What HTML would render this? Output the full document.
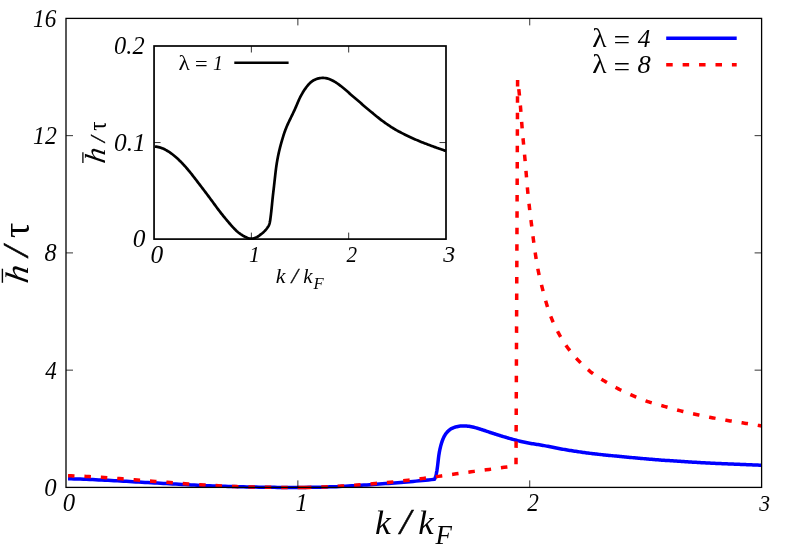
<!DOCTYPE html>
<html><head><meta charset="utf-8">
<style>
html,body{margin:0;padding:0;background:#fff;}
svg{display:block;}
text{font-family:"Liberation Serif",serif;fill:#000;}
</style></head>
<body>
<svg width="789" height="552" viewBox="0 0 789 552">
<rect x="0" y="0" width="789" height="552" fill="#fff"/>
<!-- main curves -->
<path d="M68.00 478.80 L71.08 478.86 L74.17 478.94 L77.25 479.02 L80.33 479.12 L83.41 479.23 L86.50 479.35 L89.58 479.47 L92.66 479.60 L95.74 479.74 L98.82 479.89 L101.90 480.04 L104.98 480.20 L108.06 480.36 L111.14 480.52 L114.22 480.69 L117.30 480.86 L120.38 481.03 L123.46 481.20 L126.54 481.37 L129.62 481.54 L132.69 481.72 L135.77 481.89 L138.85 482.06 L141.93 482.23 L145.01 482.40 L148.09 482.57 L151.17 482.74 L154.25 482.90 L157.33 483.07 L160.41 483.24 L163.49 483.42 L166.57 483.59 L169.65 483.76 L172.72 483.93 L175.80 484.11 L178.88 484.28 L181.96 484.44 L185.04 484.61 L188.12 484.78 L191.20 484.94 L194.28 485.09 L197.36 485.24 L200.44 485.39 L203.52 485.53 L206.60 485.67 L209.69 485.80 L212.77 485.93 L215.85 486.04 L218.93 486.15 L222.01 486.26 L225.09 486.36 L228.18 486.45 L231.26 486.54 L234.34 486.62 L237.43 486.70 L240.51 486.78 L243.59 486.85 L246.68 486.92 L249.76 486.98 L252.84 487.04 L255.93 487.10 L259.01 487.15 L262.09 487.20 L265.18 487.25 L268.26 487.29 L271.34 487.33 L274.43 487.36 L277.51 487.39 L280.60 487.42 L283.68 487.44 L286.76 487.45 L289.85 487.46 L292.93 487.46 L296.02 487.46 L299.10 487.45 L302.18 487.43 L305.27 487.40 L308.35 487.37 L311.44 487.33 L314.52 487.28 L317.60 487.22 L320.69 487.15 L323.77 487.07 L326.85 486.98 L329.93 486.87 L333.02 486.76 L336.10 486.64 L339.18 486.50 L342.26 486.36 L345.34 486.20 L348.42 486.04 L351.50 485.86 L354.58 485.68 L357.65 485.49 L360.73 485.29 L363.81 485.09 L366.89 484.89 L369.96 484.68 L373.04 484.47 L376.12 484.26 L379.19 484.04 L382.27 483.82 L385.35 483.60 L388.42 483.38 L391.50 483.15 L394.57 482.91 L397.65 482.67 L400.72 482.43 L403.80 482.18 L406.87 481.92 L409.94 481.66 L413.01 481.39 L416.09 481.12 L419.16 480.84 L422.23 480.55 L425.30 480.25 L428.37 479.94 L431.43 479.63 L434.50 479.30 L434.50 479.30 L434.98 478.16 L435.40 476.99 L435.77 475.82 L436.10 474.63 L436.38 473.43 L436.63 472.22 L436.86 471.01 L437.05 469.78 L437.23 468.56 L437.40 467.34 L437.56 466.11 L437.70 464.88 L437.84 463.66 L437.98 462.43 L438.12 461.20 L438.26 459.98 L438.40 458.75 L438.55 457.53 L438.71 456.30 L438.88 455.08 L439.07 453.86 L439.27 452.65 L439.49 451.43 L439.73 450.22 L439.98 449.01 L440.26 447.81 L440.55 446.61 L440.87 445.41 L441.21 444.22 L441.56 443.04 L441.94 441.86 L442.35 440.68 L442.79 439.53 L443.26 438.38 L443.78 437.26 L444.34 436.16 L444.96 435.09 L445.64 434.05 L446.38 433.04 L447.18 432.08 L448.04 431.18 L448.96 430.34 L449.94 429.58 L450.97 428.90 L452.05 428.30 L453.17 427.79 L454.34 427.35 L455.52 426.98 L456.72 426.67 L457.94 426.42 L459.16 426.21 L460.38 426.06 L461.62 425.96 L462.85 425.91 L464.09 425.90 L465.32 425.95 L466.56 426.03 L467.79 426.15 L469.01 426.32 L470.23 426.52 L471.45 426.75 L472.65 427.00 L473.85 427.29 L475.05 427.60 L476.24 427.93 L477.43 428.27 L478.61 428.63 L479.79 429.00 L480.97 429.37 L482.14 429.75 L483.32 430.14 L484.49 430.53 L485.66 430.92 L486.83 431.31 L488.00 431.70 L489.17 432.09 L490.34 432.49 L491.51 432.87 L492.68 433.26 L493.86 433.64 L495.03 434.02 L496.21 434.39 L497.39 434.76 L498.57 435.12 L499.75 435.49 L500.93 435.85 L502.11 436.21 L503.29 436.56 L504.47 436.91 L505.66 437.27 L506.84 437.61 L508.03 437.96 L509.21 438.31 L510.40 438.65 L511.58 438.99 L512.77 439.32 L513.96 439.65 L515.15 439.97 L516.35 440.29 L517.54 440.60 L518.74 440.91 L519.94 441.21 L521.14 441.50 L522.34 441.78 L523.54 442.06 L524.75 442.32 L525.96 442.57 L527.17 442.81 L528.38 443.04 L529.60 443.26 L530.81 443.47 L532.03 443.66 L533.25 443.85 L534.47 444.04 L535.69 444.23 L536.91 444.41 L538.13 444.60 L539.35 444.79 L540.57 445.00 L541.79 445.20 L543.00 445.42 L544.22 445.64 L545.43 445.87 L546.64 446.11 L547.85 446.34 L549.06 446.58 L550.27 446.83 L551.48 447.07 L552.69 447.31 L553.91 447.56 L555.12 447.80 L556.33 448.03 L557.54 448.27 L558.75 448.50 L559.97 448.73 L561.18 448.95 L562.40 449.17 L563.61 449.38 L564.83 449.59 L566.04 449.80 L567.26 450.00 L568.48 450.20 L569.70 450.40 L570.92 450.59 L572.14 450.79 L573.36 450.97 L574.58 451.16 L575.80 451.34 L577.02 451.53 L578.24 451.71 L579.46 451.88 L580.69 452.06 L581.91 452.23 L583.13 452.40 L584.35 452.57 L585.58 452.73 L586.80 452.90 L588.02 453.06 L589.25 453.21 L590.47 453.37 L591.70 453.52 L592.92 453.67 L594.15 453.81 L595.38 453.96 L596.60 454.10 L597.83 454.23 L599.06 454.37 L600.28 454.50 L601.51 454.63 L602.74 454.76 L603.97 454.89 L605.19 455.02 L606.42 455.14 L607.65 455.27 L608.88 455.39 L610.11 455.51 L611.34 455.63 L612.56 455.75 L613.79 455.88 L615.02 456.00 L616.25 456.11 L617.48 456.23 L618.71 456.35 L619.94 456.47 L621.17 456.59 L622.39 456.71 L623.62 456.82 L624.85 456.94 L626.08 457.05 L627.31 457.17 L628.54 457.29 L629.77 457.40 L631.00 457.51 L632.23 457.63 L633.46 457.74 L634.69 457.85 L635.91 457.96 L637.14 458.07 L638.37 458.18 L639.60 458.29 L640.83 458.40 L642.06 458.51 L643.29 458.62 L644.52 458.73 L645.75 458.84 L646.98 458.94 L648.21 459.05 L649.44 459.15 L650.67 459.26 L651.90 459.36 L653.13 459.46 L654.36 459.56 L655.59 459.66 L656.82 459.76 L658.05 459.85 L659.29 459.94 L660.52 460.04 L661.75 460.13 L662.98 460.21 L664.21 460.30 L665.44 460.38 L666.67 460.47 L667.91 460.55 L669.14 460.62 L670.37 460.70 L671.60 460.78 L672.83 460.85 L674.07 460.93 L675.30 461.01 L676.53 461.08 L677.76 461.16 L678.99 461.24 L680.23 461.31 L681.46 461.39 L682.69 461.48 L683.92 461.56 L685.15 461.64 L686.38 461.72 L687.62 461.80 L688.85 461.89 L690.08 461.97 L691.31 462.05 L692.54 462.13 L693.77 462.21 L695.01 462.29 L696.24 462.36 L697.47 462.44 L698.70 462.51 L699.94 462.58 L701.17 462.65 L702.40 462.72 L703.63 462.79 L704.87 462.86 L706.10 462.92 L707.33 462.99 L708.56 463.05 L709.80 463.11 L711.03 463.17 L712.26 463.23 L713.50 463.29 L714.73 463.34 L715.96 463.40 L717.20 463.45 L718.43 463.51 L719.66 463.56 L720.90 463.62 L722.13 463.67 L723.36 463.72 L724.60 463.77 L725.83 463.82 L727.06 463.87 L728.30 463.92 L729.53 463.97 L730.76 464.02 L732.00 464.07 L733.23 464.11 L734.46 464.16 L735.70 464.21 L736.93 464.26 L738.17 464.30 L739.40 464.35 L740.63 464.40 L741.87 464.45 L743.10 464.49 L744.33 464.54 L745.57 464.59 L746.80 464.64 L748.03 464.69 L749.27 464.73 L750.50 464.78 L751.73 464.83 L752.97 464.88 L754.20 464.93 L755.43 464.98 L756.67 465.04 L757.90 465.09 L759.13 465.14 L760.37 465.20 L761.60 465.25" fill="none" stroke="#0000ff" stroke-width="3.5" stroke-linejoin="round"/>
<path d="M68.00 475.70 L71.02 475.79 L74.03 475.90 L77.05 476.01 L80.06 476.15 L83.08 476.29 L86.09 476.44 L89.11 476.60 L92.12 476.78 L95.13 476.96 L98.14 477.15 L101.15 477.34 L104.17 477.54 L107.18 477.75 L110.19 477.96 L113.20 478.18 L116.21 478.40 L119.22 478.62 L122.23 478.84 L125.24 479.07 L128.25 479.30 L131.25 479.53 L134.26 479.76 L137.27 480.00 L140.28 480.24 L143.29 480.47 L146.30 480.71 L149.31 480.95 L152.32 481.18 L155.32 481.42 L158.33 481.66 L161.34 481.90 L164.35 482.13 L167.36 482.36 L170.37 482.60 L173.38 482.83 L176.39 483.05 L179.40 483.28 L182.41 483.49 L185.42 483.71 L188.43 483.92 L191.44 484.12 L194.45 484.32 L197.46 484.52 L200.47 484.71 L203.48 484.90 L206.50 485.08 L209.51 485.25 L212.52 485.42 L215.54 485.59 L218.55 485.75 L221.56 485.91 L224.58 486.06 L227.59 486.20 L230.61 486.33 L233.62 486.46 L236.64 486.57 L239.65 486.68 L242.67 486.77 L245.69 486.86 L248.70 486.94 L251.72 487.01 L254.74 487.07 L257.76 487.13 L260.77 487.18 L263.79 487.23 L266.81 487.27 L269.83 487.31 L272.85 487.34 L275.86 487.37 L278.88 487.40 L281.90 487.42 L284.92 487.43 L287.93 487.45 L290.95 487.45 L293.97 487.45 L296.99 487.45 L300.01 487.44 L303.02 487.43 L305.50 487.42" fill="none" stroke="#ff0000" stroke-width="3.5" stroke-dasharray="6.5 9.93" stroke-linejoin="round"/>
<path d="M304.90 487.42 L306.04 487.41 L309.06 487.38 L312.08 487.33 L315.09 487.27 L318.11 487.20 L321.13 487.10 L324.14 486.99 L327.16 486.87 L330.17 486.73 L333.19 486.58 L336.20 486.42 L339.22 486.24 L342.23 486.05 L345.24 485.84 L348.25 485.63 L351.26 485.41 L354.27 485.19 L357.28 484.95 L360.29 484.71 L363.29 484.47 L366.30 484.23 L369.31 483.99 L372.32 483.75 L375.33 483.50 L378.33 483.25 L381.34 482.99 L384.35 482.73 L387.35 482.45 L390.36 482.17 L393.36 481.87 L396.36 481.57 L399.36 481.25 L402.36 480.92 L405.36 480.58 L408.36 480.23 L411.36 479.88 L414.35 479.51 L417.35 479.14 L420.34 478.76 L423.34 478.37 L426.33 477.98 L429.32 477.58 L432.31 477.18 L435.30 476.77 L438.29 476.36 L441.28 475.95 L444.27 475.53 L447.26 475.11 L450.25 474.69 L453.24 474.27 L456.22 473.85 L459.21 473.43 L462.20 473.01 L465.19 472.60 L468.18 472.19 L471.17 471.78 L474.16 471.38 L477.15 470.98 L480.15 470.58 L483.14 470.19 L486.13 469.79 L489.12 469.40 L492.11 469.00 L495.10 468.59 L498.09 468.18 L501.08 467.76 L504.07 467.34 L507.05 466.90 L510.04 466.45 L513.02 465.98 L516.00 465.50 L517.60 79.60 L517.77 80.82 L517.93 82.03 L518.08 83.25 L518.24 84.47 L518.39 85.69 L518.53 86.91 L518.67 88.13 L518.81 89.35 L518.95 90.57 L519.08 91.79 L519.21 93.01 L519.33 94.23 L519.45 95.45 L519.57 96.67 L519.69 97.90 L519.81 99.12 L519.92 100.34 L520.03 101.56 L520.14 102.79 L520.24 104.01 L520.35 105.23 L520.45 106.46 L520.55 107.68 L520.65 108.91 L520.75 110.13 L520.84 111.35 L520.94 112.58 L521.03 113.80 L521.13 115.03 L521.22 116.25 L521.32 117.47 L521.41 118.70 L521.50 119.92 L521.60 121.15 L521.69 122.37 L521.79 123.60 L521.89 124.82 L521.98 126.04 L522.08 127.27 L522.18 128.49 L522.28 129.71 L522.39 130.94 L522.49 132.16 L522.59 133.38 L522.70 134.61 L522.81 135.83 L522.92 137.05 L523.03 138.28 L523.14 139.50 L523.25 140.72 L523.36 141.95 L523.47 143.17 L523.59 144.39 L523.70 145.61 L523.82 146.84 L523.93 148.06 L524.05 149.28 L524.17 150.50 L524.28 151.72 L524.40 152.95 L524.51 154.17 L524.62 155.39 L524.74 156.61 L524.85 157.84 L524.96 159.06 L525.07 160.28 L525.18 161.51 L525.28 162.73 L525.39 163.95 L525.50 165.18 L525.60 166.40 L525.70 167.62 L525.81 168.85 L525.91 170.07 L526.01 171.29 L526.11 172.52 L526.21 173.74 L526.31 174.96 L526.41 176.19 L526.51 177.41 L526.61 178.64 L526.71 179.86 L526.81 181.08 L526.92 182.31 L527.02 183.53 L527.12 184.75 L527.23 185.98 L527.34 187.20 L527.45 188.42 L527.56 189.64 L527.67 190.87 L527.79 192.09 L527.91 193.31 L528.03 194.53 L528.15 195.75 L528.28 196.98 L528.40 198.20 L528.53 199.42 L528.67 200.64 L528.80 201.86 L528.93 203.08 L529.07 204.30 L529.21 205.52 L529.35 206.74 L529.49 207.96 L529.64 209.18 L529.78 210.40 L529.93 211.62 L530.08 212.84 L530.22 214.05 L530.37 215.27 L530.52 216.49 L530.67 217.71 L530.82 218.93 L530.97 220.15 L531.12 221.37 L531.27 222.59 L531.42 223.80 L531.57 225.02 L531.72 226.24 L531.87 227.46 L532.02 228.68 L532.17 229.90 L532.33 231.12 L532.48 232.33 L532.63 233.55 L532.78 234.77 L532.94 235.99 L533.09 237.21 L533.25 238.42 L533.41 239.64 L533.57 240.86 L533.73 242.08 L533.89 243.29 L534.06 244.51 L534.23 245.73 L534.39 246.94 L534.56 248.16 L534.74 249.37 L534.91 250.59 L535.08 251.80 L535.26 253.02 L535.44 254.23 L535.62 255.45 L535.81 256.66 L535.99 257.88 L536.18 259.09 L536.37 260.30 L536.57 261.52 L536.77 262.73 L536.97 263.94 L537.18 265.15 L537.39 266.36 L537.61 267.57 L537.84 268.77 L538.07 269.98 L538.31 271.18 L538.56 272.38 L538.82 273.58 L539.08 274.78 L539.35 275.98 L539.62 277.18 L539.90 278.37 L540.18 279.57 L540.47 280.76 L540.76 281.96 L541.06 283.15 L541.35 284.34 L541.65 285.53 L541.95 286.72 L542.25 287.91 L542.56 289.10 L542.86 290.29 L543.17 291.48 L543.47 292.67 L543.78 293.86 L544.09 295.05 L544.41 296.23 L544.73 297.42 L545.05 298.60 L545.38 299.79 L545.72 300.97 L546.05 302.15 L546.40 303.33 L546.75 304.50 L547.11 305.68 L547.47 306.85 L547.85 308.02 L548.23 309.19 L548.61 310.36 L549.01 311.52 L549.42 312.68 L549.83 313.84 L550.25 314.99 L550.69 316.14 L551.13 317.28 L551.58 318.43 L552.04 319.56 L552.52 320.70 L553.00 321.82 L553.50 322.95 L554.00 324.07 L554.51 325.18 L555.04 326.29 L555.57 327.40 L556.12 328.50 L556.67 329.60 L557.23 330.69 L557.81 331.78 L558.39 332.86 L558.98 333.94 L559.58 335.01 L560.18 336.08 L560.80 337.15 L561.42 338.21 L562.06 339.26 L562.70 340.31 L563.35 341.35 L564.01 342.38 L564.69 343.41 L565.37 344.43 L566.06 345.45 L566.76 346.45 L567.48 347.45 L568.20 348.44 L568.94 349.42 L569.69 350.40 L570.45 351.36 L571.21 352.32 L571.99 353.27 L572.78 354.21 L573.57 355.15 L574.38 356.08 L575.19 357.00 L576.01 357.92 L576.84 358.82 L577.67 359.73 L578.52 360.62 L579.37 361.51 L580.22 362.40 L581.09 363.28 L581.96 364.15 L582.83 365.01 L583.72 365.86 L584.62 366.70 L585.52 367.53 L586.44 368.35 L587.36 369.16 L588.30 369.95 L589.24 370.74 L590.20 371.51 L591.17 372.26 L592.14 373.00 L593.13 373.73 L594.13 374.44 L595.14 375.14 L596.15 375.83 L597.18 376.51 L598.20 377.18 L599.24 377.85 L600.28 378.50 L601.33 379.15 L602.37 379.80 L603.43 380.43 L604.48 381.07 L605.53 381.70 L606.59 382.32 L607.65 382.95 L608.71 383.57 L609.78 384.18 L610.84 384.79 L611.91 385.39 L612.99 385.99 L614.06 386.58 L615.14 387.17 L616.22 387.75 L617.30 388.32 L618.39 388.89 L619.48 389.45 L620.58 390.01 L621.68 390.55 L622.78 391.10 L623.88 391.63 L624.99 392.16 L626.10 392.68 L627.22 393.20 L628.33 393.71 L629.45 394.22 L630.57 394.72 L631.70 395.22 L632.82 395.71 L633.95 396.19 L635.08 396.68 L636.22 397.15 L637.35 397.62 L638.49 398.09 L639.63 398.55 L640.77 399.00 L641.92 399.44 L643.06 399.88 L644.22 400.31 L645.37 400.72 L646.53 401.13 L647.69 401.53 L648.85 401.92 L650.02 402.30 L651.19 402.66 L652.36 403.02 L653.54 403.37 L654.72 403.71 L655.90 404.05 L657.08 404.38 L658.27 404.71 L659.45 405.03 L660.64 405.36 L661.82 405.68 L663.01 406.01 L664.19 406.33 L665.37 406.66 L666.56 406.99 L667.74 407.32 L668.92 407.66 L670.10 407.99 L671.28 408.33 L672.47 408.66 L673.65 409.00 L674.83 409.33 L676.01 409.65 L677.20 409.98 L678.38 410.29 L679.57 410.61 L680.76 410.91 L681.95 411.21 L683.14 411.51 L684.33 411.80 L685.53 412.08 L686.72 412.36 L687.92 412.63 L689.12 412.90 L690.32 413.16 L691.52 413.43 L692.72 413.69 L693.92 413.94 L695.12 414.20 L696.32 414.46 L697.52 414.71 L698.72 414.97 L699.93 415.22 L701.13 415.47 L702.33 415.72 L703.53 415.97 L704.73 416.22 L705.94 416.47 L707.14 416.72 L708.34 416.96 L709.55 417.20 L710.75 417.44 L711.96 417.68 L713.16 417.91 L714.37 418.14 L715.57 418.36 L716.78 418.59 L717.99 418.81 L719.20 419.03 L720.40 419.25 L721.61 419.46 L722.82 419.67 L724.03 419.88 L725.24 420.09 L726.45 420.29 L727.67 420.49 L728.88 420.70 L730.09 420.90 L731.30 421.09 L732.51 421.29 L733.72 421.49 L734.94 421.68 L736.15 421.87 L737.36 422.06 L738.57 422.26 L739.79 422.45 L741.00 422.64 L742.21 422.83 L743.43 423.02 L744.64 423.21 L745.85 423.40 L747.06 423.59 L748.28 423.79 L749.49 423.98 L750.70 424.18 L751.91 424.37 L753.13 424.57 L754.34 424.77 L755.55 424.97 L756.76 425.17 L757.97 425.37 L759.18 425.58 L760.39 425.79 L761.60 426.00" fill="none" stroke="#ff0000" stroke-width="3.5" stroke-dasharray="6.5 9.93" stroke-linejoin="round"/>
<path d="M304.0 487.42 L305.4 487.42" fill="none" stroke="#ff0000" stroke-width="3.5"/>
<!-- main legend samples -->
<path d="M666.2 38.3 H736.7" stroke="#0000ff" stroke-width="3.5" fill="none"/>
<path d="M666.2 64.8 H736.7" stroke="#ff0000" stroke-width="3.5" stroke-dasharray="6.5 9.93" fill="none"/>
<!-- main frame + ticks -->
<path d="M297.87 487.4 V480.4 M297.87 18.4 V25.4 M529.73 487.4 V480.4 M529.73 18.4 V25.4 M66.0 370.15 H73.0 M761.6 370.15 H754.6 M66.0 252.90 H73.0 M761.6 252.90 H754.6 M66.0 135.65 H73.0 M761.6 135.65 H754.6" stroke="#000" stroke-width="0.8" fill="none"/>
<rect x="66.0" y="18.4" width="695.60" height="469.00" fill="none" stroke="#000" stroke-width="1.3"/>
<!-- inset -->
<path d="M155.00 146.60 L156.18 146.70 L157.35 146.87 L158.50 147.11 L159.63 147.39 L160.75 147.74 L161.86 148.13 L162.94 148.57 L164.02 149.05 L165.07 149.58 L166.11 150.14 L167.14 150.73 L168.15 151.35 L169.14 151.99 L170.12 152.65 L171.09 153.34 L172.03 154.04 L172.97 154.76 L173.89 155.49 L174.80 156.24 L175.69 157.00 L176.57 157.77 L177.44 158.56 L178.30 159.36 L179.15 160.17 L179.99 160.99 L180.82 161.82 L181.64 162.66 L182.46 163.51 L183.26 164.36 L184.06 165.23 L184.85 166.10 L185.63 166.97 L186.40 167.86 L187.17 168.75 L187.93 169.64 L188.68 170.55 L189.43 171.45 L190.18 172.36 L190.91 173.28 L191.65 174.19 L192.37 175.12 L193.10 176.04 L193.82 176.97 L194.54 177.90 L195.25 178.83 L195.97 179.76 L196.68 180.69 L197.39 181.63 L198.10 182.56 L198.81 183.50 L199.52 184.43 L200.23 185.37 L200.94 186.30 L201.66 187.24 L202.37 188.17 L203.08 189.10 L203.79 190.04 L204.51 190.97 L205.22 191.90 L205.93 192.84 L206.64 193.78 L207.34 194.71 L208.05 195.65 L208.75 196.59 L209.45 197.53 L210.15 198.48 L210.85 199.43 L211.54 200.37 L212.24 201.32 L212.93 202.27 L213.62 203.22 L214.32 204.17 L215.01 205.12 L215.70 206.06 L216.40 207.01 L217.10 207.95 L217.80 208.89 L218.51 209.83 L219.21 210.77 L219.93 211.70 L220.65 212.62 L221.37 213.55 L222.10 214.46 L222.83 215.38 L223.57 216.29 L224.31 217.20 L225.06 218.11 L225.81 219.01 L226.56 219.91 L227.32 220.81 L228.08 221.71 L228.84 222.60 L229.61 223.50 L230.39 224.39 L231.16 225.28 L231.95 226.16 L232.74 227.04 L233.54 227.90 L234.36 228.75 L235.19 229.59 L236.04 230.40 L236.90 231.19 L237.79 231.96 L238.69 232.70 L239.62 233.42 L240.58 234.10 L241.55 234.75 L242.55 235.37 L243.57 235.97 L244.59 236.54 L245.64 237.09 L246.70 237.59 L247.79 238.03 L248.92 238.38 L250.07 238.61 L251.25 238.70 L252.42 238.63 L253.58 238.41 L254.72 238.07 L255.83 237.62 L256.89 237.10 L257.91 236.50 L258.89 235.85 L259.84 235.16 L260.77 234.44 L261.68 233.71 L262.59 232.96 L263.47 232.18 L264.33 231.38 L265.16 230.55 L265.95 229.68 L266.69 228.77 L267.39 227.82 L268.04 226.84 L268.63 225.82 L269.14 224.76 L269.52 223.65 L269.80 222.51 L270.02 221.35 L270.20 220.19 L270.37 219.03 L270.52 217.87 L270.67 216.70 L270.82 215.54 L270.95 214.37 L271.09 213.20 L271.22 212.04 L271.35 210.87 L271.47 209.70 L271.59 208.53 L271.71 207.36 L271.83 206.19 L271.94 205.03 L272.06 203.86 L272.18 202.69 L272.29 201.52 L272.41 200.35 L272.53 199.18 L272.66 198.02 L272.78 196.85 L272.91 195.68 L273.04 194.51 L273.17 193.35 L273.31 192.18 L273.44 191.01 L273.58 189.85 L273.72 188.68 L273.85 187.51 L273.99 186.35 L274.12 185.18 L274.25 184.01 L274.38 182.85 L274.51 181.68 L274.64 180.51 L274.77 179.35 L274.90 178.18 L275.03 177.01 L275.16 175.84 L275.29 174.68 L275.42 173.51 L275.55 172.34 L275.69 171.18 L275.84 170.01 L275.98 168.85 L276.14 167.68 L276.30 166.52 L276.46 165.36 L276.64 164.19 L276.82 163.03 L277.01 161.87 L277.21 160.72 L277.41 159.56 L277.63 158.40 L277.85 157.25 L278.08 156.10 L278.31 154.95 L278.56 153.80 L278.81 152.65 L279.07 151.51 L279.34 150.36 L279.61 149.22 L279.89 148.08 L280.18 146.94 L280.48 145.81 L280.78 144.67 L281.09 143.54 L281.41 142.41 L281.73 141.28 L282.06 140.15 L282.39 139.02 L282.73 137.89 L283.07 136.77 L283.42 135.65 L283.78 134.53 L284.15 133.41 L284.53 132.30 L284.92 131.20 L285.33 130.09 L285.74 128.99 L286.17 127.90 L286.62 126.82 L287.08 125.74 L287.55 124.66 L288.03 123.59 L288.53 122.52 L289.03 121.46 L289.53 120.40 L290.05 119.35 L290.56 118.29 L291.08 117.23 L291.60 116.18 L292.11 115.12 L292.63 114.07 L293.14 113.01 L293.64 111.95 L294.14 110.89 L294.63 109.82 L295.11 108.75 L295.59 107.67 L296.05 106.60 L296.51 105.51 L296.96 104.43 L297.42 103.35 L297.88 102.27 L298.34 101.19 L298.82 100.11 L299.31 99.05 L299.81 97.99 L300.33 96.93 L300.88 95.89 L301.44 94.86 L302.02 93.84 L302.61 92.82 L303.22 91.82 L303.85 90.83 L304.49 89.84 L305.15 88.87 L305.82 87.91 L306.52 86.96 L307.24 86.04 L308.00 85.13 L308.78 84.25 L309.59 83.40 L310.45 82.60 L311.35 81.84 L312.30 81.14 L313.28 80.50 L314.31 79.92 L315.38 79.42 L316.47 79.00 L317.59 78.64 L318.74 78.36 L319.89 78.14 L321.06 77.99 L322.23 77.91 L323.41 77.91 L324.58 77.99 L325.75 78.14 L326.90 78.38 L328.04 78.68 L329.15 79.05 L330.25 79.48 L331.33 79.95 L332.39 80.46 L333.43 81.00 L334.44 81.59 L335.45 82.20 L336.43 82.84 L337.40 83.51 L338.36 84.19 L339.31 84.88 L340.25 85.58 L341.18 86.30 L342.10 87.02 L343.02 87.76 L343.93 88.50 L344.83 89.26 L345.72 90.02 L346.61 90.78 L347.49 91.56 L348.37 92.34 L349.25 93.12 L350.12 93.91 L351.00 94.69 L351.88 95.46 L352.77 96.22 L353.67 96.98 L354.57 97.74 L355.47 98.50 L356.36 99.25 L357.26 100.02 L358.15 100.78 L359.03 101.55 L359.92 102.33 L360.80 103.10 L361.68 103.87 L362.57 104.65 L363.45 105.42 L364.34 106.19 L365.24 106.95 L366.14 107.70 L367.04 108.45 L367.95 109.20 L368.85 109.95 L369.76 110.69 L370.67 111.43 L371.58 112.18 L372.49 112.92 L373.39 113.67 L374.30 114.42 L375.20 115.17 L376.11 115.92 L377.01 116.67 L377.92 117.41 L378.83 118.15 L379.76 118.88 L380.68 119.59 L381.62 120.30 L382.56 121.01 L383.51 121.70 L384.46 122.39 L385.41 123.08 L386.37 123.76 L387.34 124.43 L388.31 125.09 L389.29 125.74 L390.27 126.39 L391.25 127.02 L392.25 127.65 L393.25 128.27 L394.25 128.87 L395.26 129.47 L396.28 130.05 L397.31 130.63 L398.33 131.20 L399.37 131.75 L400.41 132.30 L401.45 132.85 L402.49 133.38 L403.54 133.91 L404.60 134.43 L405.65 134.95 L406.71 135.46 L407.77 135.97 L408.83 136.47 L409.89 136.97 L410.96 137.47 L412.03 137.96 L413.10 138.44 L414.17 138.92 L415.24 139.40 L416.32 139.87 L417.40 140.33 L418.48 140.79 L419.56 141.24 L420.65 141.69 L421.73 142.13 L422.82 142.57 L423.92 143.00 L425.01 143.43 L426.11 143.85 L427.20 144.27 L428.30 144.69 L429.40 145.10 L430.50 145.51 L431.61 145.91 L432.71 146.31 L433.82 146.71 L434.92 147.11 L436.03 147.50 L437.13 147.90 L438.24 148.29 L439.35 148.68 L440.46 149.07 L441.57 149.45 L442.68 149.84 L443.78 150.23 L444.89 150.61 L446.00 151.00" fill="none" stroke="#000" stroke-width="2.7" stroke-linejoin="round"/>
<path d="M234.3 62.75 H288.6" stroke="#000" stroke-width="2.7" fill="none"/>
<path d="M251.37 239.1 V232.6 M251.37 46.0 V52.5 M348.68 239.1 V232.6 M348.68 46.0 V52.5 M154.05 142.55 H160.55 M446.0 142.55 H439.5" stroke="#000" stroke-width="0.8" fill="none"/>
<rect x="154.05" y="46.0" width="291.95" height="193.10" fill="none" stroke="#000" stroke-width="1.7"/>
<g opacity="0.995">
<text transform="translate(44.20 495.51) scale(0.9895 0.9781)" font-size="25" font-style="italic" >0</text>
<text transform="translate(45.29 378.50) scale(0.9177 1.0027)" font-size="25" font-style="italic" >4</text>
<text transform="translate(44.44 261.01) scale(0.9663 0.9781)" font-size="25" font-style="italic" >8</text>
<text transform="translate(33.00 144.00) scale(0.9508 0.9968)" font-size="25" font-style="italic" >12</text>
<text transform="translate(33.12 26.51) scale(0.9297 0.9823)" font-size="25" font-style="italic" >16</text>
<text transform="translate(62.80 511.11) scale(0.9895 0.9958)" font-size="25" font-style="italic" >0</text>
<text transform="translate(295.48 511.05) scale(0.9750 0.9695)" font-size="25" font-style="italic" >1</text>
<text transform="translate(527.14 511.05) scale(0.9298 0.9666)" font-size="25" font-style="italic" >2</text>
<text transform="translate(759.28 510.82) scale(0.8655 0.9526)" font-size="25" font-style="italic" >3</text>
<text transform="translate(375.12 533.95) scale(1.0473 0.9919)" font-size="34" font-style="italic" >k</text>
<text transform="translate(399.93 533.90) scale(1.1400 1.0420)" font-size="34" font-style="italic" stroke="#000" stroke-width="0.5">/</text>
<text transform="translate(418.25 533.95) scale(1.0199 0.9919)" font-size="34" font-style="italic" >k</text>
<text transform="translate(435.39 544.25) scale(0.9963 1.0351)" font-size="27" font-style="italic" >F</text>
<text transform="translate(592.27 46.75) scale(1.1829 1.0510)" font-size="25" font-style="normal" >λ</text>
<text transform="translate(611.82 49.16) scale(1.1691 1.1040)" font-size="25" font-style="italic" >=</text>
<text transform="translate(637.69 46.75) scale(1.0103 1.0392)" font-size="25" font-style="italic" >4</text>
<text transform="translate(592.27 73.15) scale(1.1829 1.0510)" font-size="25" font-style="normal" >λ</text>
<text transform="translate(611.82 75.56) scale(1.1691 1.1040)" font-size="25" font-style="italic" >=</text>
<text transform="translate(637.59 73.20) scale(1.0603 1.0255)" font-size="25" font-style="italic" >8</text>
<text transform="translate(114.11 53.80) scale(0.9752 0.9953)" font-size="25" font-style="italic" >0.2</text>
<text transform="translate(114.07 150.50) scale(1.0145 0.9953)" font-size="25" font-style="italic" >0.1</text>
<text transform="translate(132.77 246.91) scale(1.0162 0.9958)" font-size="25" font-style="italic" >0</text>
<text transform="translate(150.57 262.51) scale(1.0162 0.9899)" font-size="25" font-style="italic" >0</text>
<text transform="translate(248.97 262.45) scale(0.8741 0.9634)" font-size="25" font-style="italic" >1</text>
<text transform="translate(346.44 262.45) scale(0.8460 0.9606)" font-size="25" font-style="italic" >2</text>
<text transform="translate(443.29 262.22) scale(0.9597 0.9466)" font-size="25" font-style="italic" >3</text>
<text transform="translate(275.72 282.65) scale(1.0417 1.0089)" font-size="21" font-style="italic" >k</text>
<text transform="translate(291.52 282.64) scale(1.1074 1.0393)" font-size="21" font-style="italic" stroke="#000" stroke-width="0.3">/</text>
<text transform="translate(303.15 282.65) scale(0.9974 1.0089)" font-size="21" font-style="italic" >k</text>
<text transform="translate(313.54 288.55) scale(0.9796 0.9972)" font-size="17" font-style="italic" >F</text>
<text transform="translate(178.53 69.75) scale(1.2312 1.0988)" font-size="19" font-style="normal" >λ</text>
<text transform="translate(193.38 70.87) scale(1.1876 1.0737)" font-size="19" font-style="italic" >=</text>
<text transform="translate(213.04 69.55) scale(1.0469 1.0922)" font-size="19" font-style="italic" >1</text>
<g transform="translate(28.5 283.0) rotate(-90)">
<text transform="translate(-1.02 -0.25) scale(1.0309 0.9580) matrix(1 0 -0.1500 1 0 0)" font-size="34" font-style="italic" >h</text>
<path d="M0.2 -26.10 H14.3" stroke="#000" stroke-width="1.4" fill="none"/>
<text transform="translate(26.48 -0.39) scale(1.1106 1.0288)" font-size="34" font-style="italic" stroke="#000" stroke-width="0.5">/</text>
<text transform="translate(45.01 0.08) scale(1.1258 1.1169)" font-size="34" font-style="normal" >τ</text>
</g>
<g transform="translate(105.7 163.1) rotate(-90)">
<text transform="translate(-0.84 -0.25) scale(1.0055 0.9656) matrix(1 0 -0.1500 1 0 0)" font-size="30" font-style="italic" >h</text>
<path d="M0.2 -22.80 H10.9" stroke="#000" stroke-width="1.3" fill="none"/>
<text transform="translate(20.85 -0.36) scale(1.0360 1.0179)" font-size="21" font-style="italic" stroke="#000" stroke-width="0.3">/</text>
<text transform="translate(32.35 0.11) scale(1.0910 1.1683)" font-size="21" font-style="normal" >τ</text>
</g>
</g>
</svg>
</body></html>
